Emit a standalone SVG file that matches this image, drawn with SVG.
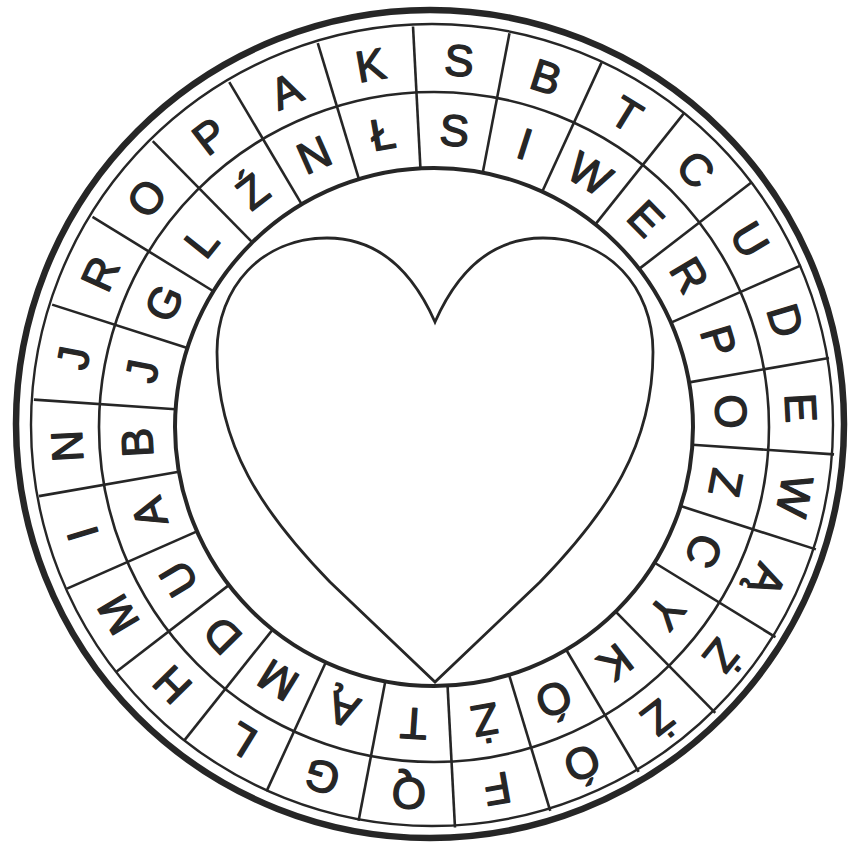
<svg xmlns="http://www.w3.org/2000/svg" width="852" height="852" viewBox="0 0 852 852">
<style>
.c{fill:none;stroke:#262626}
.r line{stroke:#262626;stroke-width:2.6}
.l text{font-family:"Liberation Sans",Arial,sans-serif;font-size:44px;fill:#262626;stroke:#262626;stroke-width:1.4;stroke-linejoin:round;text-anchor:middle}
</style>
<rect width="852" height="852" fill="#fff"/>
<g id="rings">
<circle class="c" cx="430" cy="424" r="414" stroke-width="6.5"/>
<circle class="c" cx="432" cy="425" r="401" stroke-width="2.4"/>
<circle class="c" cx="434" cy="427" r="335" stroke-width="2.6"/>
<circle class="c" cx="434" cy="427" r="259" stroke-width="4"/>
</g>
<g id="dividers" class="r" transform="translate(434 427)">
<line y1="-259" y2="-401" transform="rotate(-3)"/>
<line y1="-259" y2="-401" transform="rotate(10.85)"/>
<line y1="-259" y2="-401" transform="rotate(24.69)"/>
<line y1="-259" y2="-401" transform="rotate(38.54)"/>
<line y1="-259" y2="-401" transform="rotate(52.38)"/>
<line y1="-259" y2="-401" transform="rotate(66.23)"/>
<line y1="-259" y2="-401" transform="rotate(80.08)"/>
<line y1="-259" y2="-401" transform="rotate(93.92)"/>
<line y1="-259" y2="-401" transform="rotate(107.77)"/>
<line y1="-259" y2="-401" transform="rotate(121.61)"/>
<line y1="-259" y2="-401" transform="rotate(135.46)"/>
<line y1="-259" y2="-401" transform="rotate(149.31)"/>
<line y1="-259" y2="-401" transform="rotate(163.15)"/>
<line y1="-259" y2="-401" transform="rotate(177)"/>
<line y1="-259" y2="-401" transform="rotate(190.84)"/>
<line y1="-259" y2="-401" transform="rotate(204.69)"/>
<line y1="-259" y2="-401" transform="rotate(218.54)"/>
<line y1="-259" y2="-401" transform="rotate(232.38)"/>
<line y1="-259" y2="-401" transform="rotate(246.23)"/>
<line y1="-259" y2="-401" transform="rotate(260.07)"/>
<line y1="-259" y2="-401" transform="rotate(273.92)"/>
<line y1="-259" y2="-401" transform="rotate(287.77)"/>
<line y1="-259" y2="-401" transform="rotate(301.61)"/>
<line y1="-259" y2="-401" transform="rotate(315.46)"/>
<line y1="-259" y2="-401" transform="rotate(329.3)"/>
<line y1="-259" y2="-401" transform="rotate(343.15)"/>
</g>
<g id="outer-ring" class="l" transform="translate(434 427)">
<text y="-352" transform="rotate(3.92)">S</text>
<text y="-352" transform="rotate(17.77)">B</text>
<text y="-352" transform="rotate(31.61)">T</text>
<text y="-352" transform="rotate(45.46)">C</text>
<text y="-352" transform="rotate(59.3)">U</text>
<text y="-352" transform="rotate(73.15)">D</text>
<text y="-352" transform="rotate(87)">E</text>
<text y="-352" transform="rotate(100.84)">W</text>
<text y="-352" transform="rotate(114.69)">Ą</text>
<text y="-352" transform="rotate(128.53)">Ż</text>
<text y="-352" transform="rotate(142.38)">Ż</text>
<text y="-352" transform="rotate(156.23)">Ó</text>
<text y="-352" transform="rotate(170.07)">F</text>
<text y="-352" transform="rotate(183.92)">Q</text>
<text y="-352" transform="rotate(197.76)">G</text>
<text y="-352" transform="rotate(211.61)">L</text>
<text y="-352" transform="rotate(225.46)">H</text>
<text y="-352" transform="rotate(239.3)">M</text>
<text y="-352" transform="rotate(253.15)">I</text>
<text y="-352" transform="rotate(266.99)">N</text>
<text y="-352" transform="rotate(280.84)">J</text>
<text y="-352" transform="rotate(294.69)">R</text>
<text y="-352" transform="rotate(308.53)">O</text>
<text y="-352" transform="rotate(322.38)">P</text>
<text y="-352" transform="rotate(336.22)">A</text>
<text y="-352" transform="rotate(350.07)">K</text>
</g>
<g id="inner-ring" class="l" transform="translate(434 427)">
<text y="-282" transform="rotate(3.92)">S</text>
<text y="-282" transform="rotate(17.77)">I</text>
<text y="-282" transform="rotate(31.61)">W</text>
<text y="-282" transform="rotate(45.46)">E</text>
<text y="-282" transform="rotate(59.3)">R</text>
<text y="-282" transform="rotate(73.15)">P</text>
<text y="-282" transform="rotate(87)">O</text>
<text y="-282" transform="rotate(100.84)">Z</text>
<text y="-282" transform="rotate(114.69)">C</text>
<text y="-282" transform="rotate(128.53)">Y</text>
<text y="-282" transform="rotate(142.38)">K</text>
<text y="-282" transform="rotate(156.23)">Ó</text>
<text y="-282" transform="rotate(170.07)">Ż</text>
<text y="-282" transform="rotate(183.92)">T</text>
<text y="-282" transform="rotate(197.76)">Ą</text>
<text y="-282" transform="rotate(211.61)">M</text>
<text y="-282" transform="rotate(225.46)">D</text>
<text y="-282" transform="rotate(239.3)">U</text>
<text y="-282" transform="rotate(253.15)">A</text>
<text y="-282" transform="rotate(266.99)">B</text>
<text y="-282" transform="rotate(280.84)">J</text>
<text y="-282" transform="rotate(294.69)">G</text>
<text y="-282" transform="rotate(308.53)">L</text>
<text y="-282" transform="rotate(322.38)">Ź</text>
<text y="-282" transform="rotate(336.22)">N</text>
<text y="-282" transform="rotate(350.07)">Ł</text>
</g>
<g id="heart">
<path d="M435,322 C412,270 378,238 327,238 C262,238 217,287 217,352 C217,445 262,512 330,582 L435,682 L540,582 C608,512 653,445 653,352 C653,287 608,238 543,238 C492,238 458,270 435,322 Z" fill="#fff" stroke="#262626" stroke-width="2.8" stroke-linejoin="miter"/>
</g>
</svg>
